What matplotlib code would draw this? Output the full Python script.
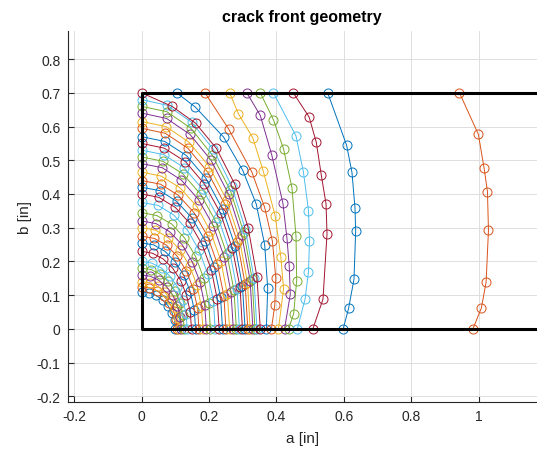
import matplotlib
matplotlib.use("Agg")
import matplotlib.pyplot as plt

plt.rcParams['font.family'] = ['Liberation Sans', 'DejaVu Sans']

# MATLAB default line colours, cycled over the crack fronts
matlab_colors = ['#0072BD', '#D95319', '#EDB120', '#7E2F8E',
                 '#77AC30', '#4DBEEE', '#A2142F']

# plate outline (inches)
plate_width = 1.25
plate_thickness = 0.7

# crack fronts, one row per growth step: a (x) and b (y) of every node
front_a = [
    [0, .022, .043, .062, .078, .090, .098, .100],
    [0, .023, .046, .065, .082, .095, .102, .105],
    [0, .025, .048, .069, .086, .099, .107, .110],
    [0, .026, .051, .074, .092, .106, .115, .118],
    [0, .028, .055, .078, .099, .114, .123, .126],
    [0, .030, .059, .084, .106, .122, .132, .135],
    [0, .033, .064, .092, .116, .133, .144, .148],
    [0, .036, .069, .100, .125, .144, .156, .160],
    [0, .038, .074, .106, .133, .153, .166, .170],
    [0, .041, .079, .113, .142, .164, .177, .182],
    [0, .043, .083, .120, .150, .173, .187, .192],
    [0, .045, .089, .127, .160, .184, .199, .204],
    [0, .049, .095, .136, .170, .196, .213, .218],
    [0, .051, .100, .143, .180, .207, .224, .230],
    [0, .054, .104, .150, .188, .216, .234, .240],
    [0, .056, .109, .156, .196, .225, .244, .250],
    [0, .058, .113, .163, .204, .235, .254, .261],
    [0, .061, .118, .169, .213, .245, .265, .272],
    [0, .063, .122, .175, .220, .253, .274, .281],
    [0, .065, .126, .181, .227, .261, .283, .290],
    [0, .067, .130, .186, .234, .269, .292, .299],
    [0, .068, .133, .191, .240, .277, .299, .307],
    [0, .070, .137, .196, .246, .284, .307, .315],
    [0, .072, .140, .201, .252, .290, .314, .322],
    [0, .074, .143, .206, .258, .297, .322, .330],
    [0, .075, .146, .209, .263, .303, .328, .336],
    [0, .076, .148, .213, .267, .308, .333, .342],
    [0, .090, .160, .222, .276, .316, .342, .352],
    [.104, .159, .243, .300, .340, .365, .374, .370],
    [.188, .258, .327, .365, .388, .398, .395, .385],
    [.261, .287, .330, .361, .396, .413, .421, .406],
    [.312, .352, .386, .419, .431, .438, .441, .424],
    [.352, .391, .421, .446, .458, .460, .451, .436],
    [.391, .458, .480, .495, .498, .495, .485, .462],
    [.450, .497, .518, .533, .547, .550, .538, .508],
    [.552, .608, .624, .633, .635, .630, .614, .598],
    [.943, .999, 1.016, 1.026, 1.029, 1.022, 1.008, .983],
]
front_b = [
    [.110, .107, .099, .086, .069, .048, .025, 0],
    [.125, .122, .113, .098, .078, .054, .028, 0],
    [.140, .137, .126, .109, .087, .061, .031, 0],
    [.160, .156, .144, .125, .100, .069, .036, 0],
    [.180, .176, .162, .141, .112, .078, .040, 0],
    [.200, .195, .180, .156, .125, .087, .045, 0],
    [.230, .224, .207, .180, .143, .100, .051, 0],
    [.255, .249, .230, .199, .159, .111, .057, 0],
    [.275, .268, .248, .215, .171, .119, .061, 0],
    [.300, .293, .270, .235, .187, .130, .067, 0],
    [.320, .312, .288, .250, .199, .139, .071, 0],
    [.345, .336, .311, .270, .215, .150, .077, 0],
    [.375, .366, .338, .293, .234, .163, .084, 0],
    [.400, .390, .360, .313, .249, .174, .089, 0],
    [.420, .410, .378, .328, .262, .182, .094, 0],
    [.440, .429, .396, .344, .274, .191, .098, 0],
    [.465, .453, .419, .364, .290, .202, .104, 0],
    [.490, .478, .441, .383, .305, .213, .109, 0],
    [.510, .497, .460, .399, .318, .221, .114, 0],
    [.530, .517, .478, .414, .330, .230, .118, 0],
    [.550, .536, .496, .430, .343, .239, .123, 0],
    [.570, .556, .514, .446, .355, .247, .127, 0],
    [.595, .580, .536, .465, .371, .258, .133, 0],
    [.615, .600, .554, .481, .383, .267, .137, 0],
    [.640, .624, .577, .500, .399, .278, .143, 0],
    [.660, .644, .595, .516, .411, .286, .147, 0],
    [.680, .663, .613, .532, .424, .295, .152, 0],
    [.700, .660, .610, .535, .430, .300, .155, 0],
    [.700, .658, .569, .470, .370, .250, .120, 0],
    [.700, .593, .465, .360, .260, .150, .070, 0],
    [.700, .638, .566, .467, .336, .213, .119, 0],
    [.700, .633, .516, .373, .270, .185, .102, 0],
    [.700, .620, .534, .418, .274, .143, .045, 0],
    [.700, .572, .465, .351, .262, .170, .089, 0],
    [.700, .628, .554, .456, .371, .282, .088, 0],
    [.700, .545, .464, .358, .289, .147, .061, 0],
    [.700, .577, .477, .407, .292, .139, .062, 0],
]

xticks = [-0.2, 0, 0.2, 0.4, 0.6, 0.8, 1]
xtick_labels = ['-0.2', '0', '0.2', '0.4', '0.6', '0.8', '1']
yticks = [-0.2, -0.1, 0, 0.1, 0.2, 0.3, 0.4, 0.5, 0.6, 0.7, 0.8]
ytick_labels = ['-0.2', '-0.1', '0', '0.1', '0.2', '0.3', '0.4', '0.5', '0.6', '0.7', '0.8']

fig = plt.figure(figsize=(5.37, 4.52), dpi=100)
ax = fig.add_axes([0.1257, 0.1084, 0.8743, 0.8212])

for i, (xs, ys) in enumerate(zip(front_a, front_b)):
    ax.plot(xs, ys, '-o', color=matlab_colors[i % 7], lw=0.7,
            markersize=6.5, markerfacecolor='none', markeredgewidth=0.7)

# specimen outline
ax.plot([plate_width, 0, 0, plate_width], [0, 0, plate_thickness, plate_thickness],
        color='black', lw=2.2, zorder=5)

ax.set_xlim(-0.22, 1.173)
ax.set_ylim(-0.217, 0.884)
ax.set_xticks(xticks)
ax.set_xticklabels(xtick_labels)
ax.set_yticks(yticks)
ax.set_yticklabels(ytick_labels)

ax.grid(True, color='#dfdfdf', lw=0.7)
ax.set_axisbelow(True)
for side in ['top', 'right']:
    ax.spines[side].set_visible(False)
for side in ['left', 'bottom']:
    ax.spines[side].set_color('#262626')
    ax.spines[side].set_linewidth(0.8)
ax.tick_params(direction='in', length=4, width=0.8, colors='#262626',
               labelsize=10, pad=5)

ax.set_xlabel('a [in]', fontsize=11, color='#262626', labelpad=6)
ax.set_ylabel('b [in]', fontsize=11, color='#262626', labelpad=3)
ax.set_title('crack front geometry', fontsize=11.5, fontweight='bold', pad=7)

fig.savefig('out.png', dpi=100)
